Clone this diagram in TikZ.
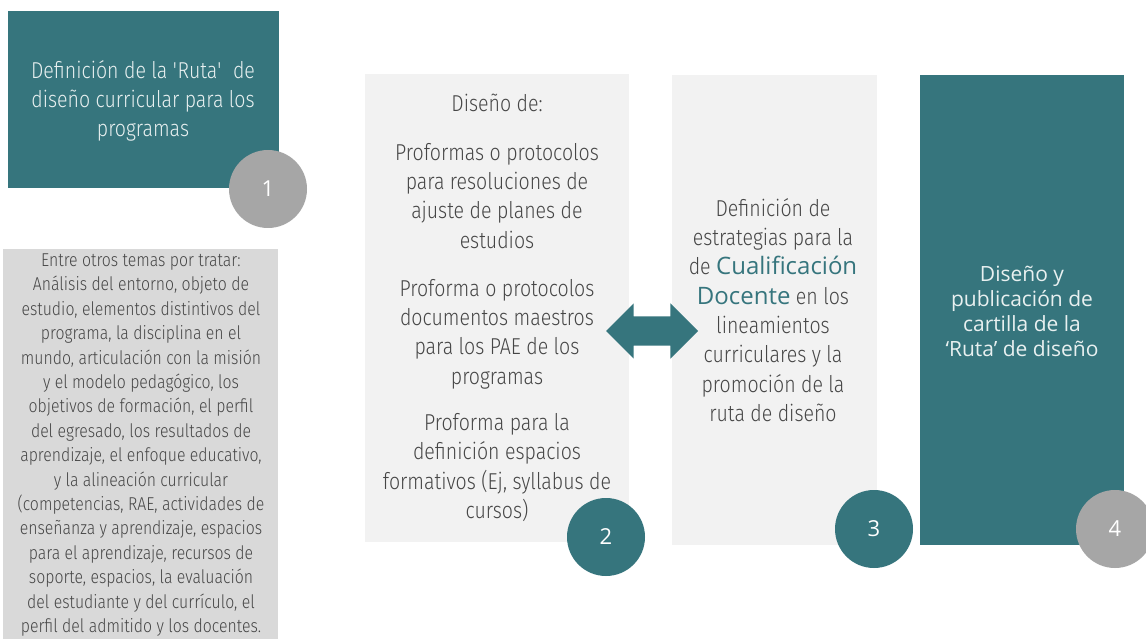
\documentclass[tikz,border=0pt]{standalone}
\usepackage{fontspec}
\setmainfont{Fira Sans}[UprightFont={* Light}, FakeStretch=0.85]
\newfontfamily\widefont{Open Sans}
\usetikzlibrary{shapes.arrows}
\definecolor{tealc}{RGB}{54,117,125}
\definecolor{lightbox}{RGB}{242,242,242}
\definecolor{midbox}{RGB}{217,217,217}
\definecolor{graycirc}{RGB}{166,166,166}
\definecolor{darktext}{RGB}{70,70,70}
\definecolor{paletext}{RGB}{232,240,240}
\tikzset{
  panel/.style={rectangle, anchor=north west, inner sep=0pt, draw=none},
  txt/.style={align=center, inner sep=0pt},
  numc/.style={circle, minimum size=78pt, inner sep=0pt, text=white,
    font=\widefont\fontsize{22}{26}\selectfont},
  hl/.style={},
}
\newcommand{\hltext}[1]{{\widefont\color{tealc}\fontsize{24}{29.3}\selectfont #1}}
\begin{document}
\begin{tikzpicture}[x=1pt,y=-1pt]
\useasboundingbox (0,0) rectangle (1146,639);
\fill[white] (0,0) rectangle (1146,639);
% panels
\node[panel, fill=tealc, minimum width=271pt, minimum height=177pt] (b1) at (8,11) {};
\node[panel, fill=midbox, minimum width=275pt, minimum height=395pt] (bg) at (3,249) {};
\node[panel, fill=lightbox, minimum width=264pt, minimum height=468pt] (b2) at (365,74) {};
\node[panel, fill=lightbox, minimum width=205pt, minimum height=470pt] (b3) at (672,75) {};
\node[panel, fill=tealc, minimum width=204pt, minimum height=470pt] (b4) at (920,75) {};
% texts
\node[txt, text=paletext, font=\fontsize{23}{29}\selectfont] (t1) at (143,101)
  {Definición de la \textquotesingle Ruta\textquotesingle\ \ de\\diseño curricular para los\\programas};
\node[txt, text=darktext, font=\fontsize{18.6}{24.4}\selectfont] (tg) at (141,445)
  {Entre otros temas por tratar:\\Análisis del entorno, objeto de\\estudio, elementos distintivos del\\programa, la disciplina en el\\mundo, articulación con la misión\\y el modelo pedagógico, los\\objetivos de formación, el perfil\\del egresado, los resultados de\\aprendizaje, el enfoque educativo,\\y la alineación curricular\\(competencias, RAE, actividades de\\enseñanza y aprendizaje, espacios\\para el aprendizaje, recursos de\\soporte, espacios, la evaluación\\del estudiante y del currículo, el\\perfil del admitido y los docentes.};
\node[txt, text=darktext, font=\fontsize{23}{29.3}\selectfont] (t2) at (497,308)
  {Diseño de:\\[19pt]Proformas o protocolos\\para resoluciones de\\ajuste de planes de\\estudios\\[19pt]Proforma o protocolos\\documentos maestros\\para los PAE de los\\programas\\[17pt]Proforma para la\\definición espacios\\formativos (Ej, syllabus de\\cursos)};
\node[txt, text=darktext, font=\fontsize{23}{29.3}\selectfont] (t3) at (773,310)
  {Definición de\\estrategias para la\\de \hltext{Cualificación}\\\hltext{Docente} en los\\lineamientos\\curriculares y la\\promoción de la\\ruta de diseño};
\node[txt, text=paletext, font=\widefont\fontsize{21}{25}\selectfont] (t4) at (1022,311)
  {Diseño y\\publicación de\\cartilla de la\\‘Ruta’ de diseño};
% connector
\node[double arrow, fill=tealc, minimum height=92pt, inner xsep=0pt, inner ysep=14.5pt,
  double arrow head extend=13pt] (arr) at (652,331) {};
% numbered circles
\node[numc, fill=graycirc] (c1) at (268,189) {1};
\node[numc, fill=tealc] (c2) at (606,537) {2};
\node[numc, fill=tealc] (c3) at (874,529) {3};
\node[numc, fill=graycirc] (c4) at (1115,529) {4};
\end{tikzpicture}
\end{document}
